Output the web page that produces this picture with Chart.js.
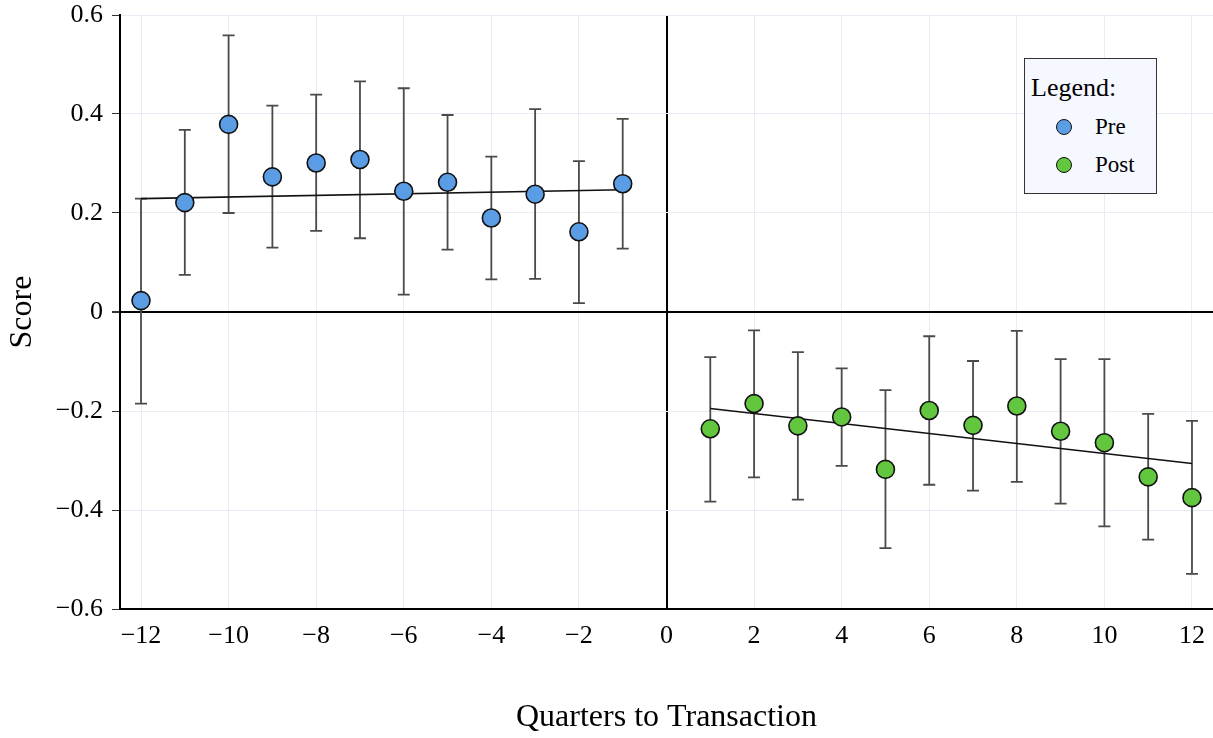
<!DOCTYPE html>
<html>
<head>
<meta charset="utf-8">
<script src="https://cdn.jsdelivr.net/npm/chart.js@4.4.1/dist/chart.umd.min.js"></script>
<style>
  body { margin: 0; background: #fff; }
  #wrap { position: relative; width: 1213px; height: 738px; }
  #legendBox {
    position: absolute; left: 1024px; top: 58px; width: 131px; height: 134px;
    border: 1.5px solid #333; background: #f5f8fe;
    font-family: 'Liberation Serif', 'Times New Roman', serif; color: #000;
  }
  #legendBox .ttl { position: absolute; left: 6px; top: 14px; font-size: 26px; line-height: 30px; }
  #legendBox .item { position: absolute; left: 31px; font-size: 23px; line-height: 26px; }
  #legendBox .dot {
    display: inline-block; width: 14px; height: 14px; border-radius: 50%;
    border: 1.5px solid #111; vertical-align: middle; margin-right: 23px; position: relative; top: -2px;
  }
</style>
</head>
<body>
<div id="wrap">
  <canvas id="scoreChart" width="1213" height="738"></canvas>
  <div id="legendBox"></div>
</div>
<script>
// quarters relative to the transaction
const preQuarters = [-12, -11, -10, -9, -8, -7, -6, -5, -4, -3, -2, -1];
const postQuarters = [1, 2, 3, 4, 5, 6, 7, 8, 9, 10, 11, 12];

// mean scores and error bar bounds
const preScore = [0.023, 0.221, 0.379, 0.273, 0.301, 0.308, 0.244, 0.262, 0.190, 0.238, 0.162, 0.259];
const preLower = [-0.185, 0.075, 0.200, 0.130, 0.164, 0.149, 0.035, 0.126, 0.066, 0.067, 0.018, 0.128];
const preUpper = [0.229, 0.368, 0.559, 0.417, 0.439, 0.466, 0.452, 0.398, 0.314, 0.410, 0.305, 0.390];

const postScore = [-0.236, -0.185, -0.230, -0.212, -0.318, -0.199, -0.229, -0.190, -0.241, -0.264, -0.333, -0.375];
const postLower = [-0.383, -0.334, -0.379, -0.311, -0.477, -0.349, -0.361, -0.343, -0.387, -0.433, -0.460, -0.529];
const postUpper = [-0.091, -0.037, -0.081, -0.114, -0.158, -0.049, -0.099, -0.038, -0.095, -0.095, -0.206, -0.220];

// fitted trend lines (start and end values)
const preTrend = [0.229, 0.247];
const postTrend = [-0.195, -0.306];

const seriesNames = ['Pre', 'Post'];
const seriesColors = ['#5b9de4', '#62c63e'];

const xTickValues = [-12, -10, -8, -6, -4, -2, 0, 2, 4, 6, 8, 10, 12];
const xTickLabels = ['\u221212', '\u221210', '\u22128', '\u22126', '\u22124', '\u22122', '0', '2', '4', '6', '8', '10', '12'];
const yTickValues = [-0.6, -0.4, -0.2, 0, 0.2, 0.4, 0.6];
const yTickLabels = ['\u22120.6', '\u22120.4', '\u22120.2', '0', '0.2', '0.4', '0.6'];

const serif = "'Liberation Serif', 'Times New Roman', serif";

function toPoints(xs, ys) {
  return xs.map((x, i) => ({ x: x, y: ys[i] }));
}

// vertical error bars with caps, drawn under the markers
const errorBars = {
  id: 'errorBars',
  beforeDatasetsDraw(chart) {
    const ctx = chart.ctx;
    const xs = chart.scales.x;
    const ys = chart.scales.y;
    const groups = [
      [preQuarters, preLower, preUpper],
      [postQuarters, postLower, postUpper],
    ];
    ctx.save();
    ctx.strokeStyle = '#4a4a4a';
    ctx.lineWidth = 1.8;
    groups.forEach(([qs, lo, hi]) => {
      qs.forEach((q, i) => {
        const px = xs.getPixelForValue(q);
        const y1 = ys.getPixelForValue(lo[i]);
        const y2 = ys.getPixelForValue(hi[i]);
        ctx.beginPath();
        ctx.moveTo(px, y1);
        ctx.lineTo(px, y2);
        ctx.moveTo(px - 6, y1);
        ctx.lineTo(px + 6, y1);
        ctx.moveTo(px - 6, y2);
        ctx.lineTo(px + 6, y2);
        ctx.stroke();
      });
    });
    ctx.restore();
  }
};

const ctx = document.getElementById('scoreChart').getContext('2d');
new Chart(ctx, {
  type: 'scatter',
  data: {
    datasets: [
      {
        label: seriesNames[0],
        data: toPoints(preQuarters, preScore),
        backgroundColor: seriesColors[0],
        borderColor: '#111',
        borderWidth: 1.6,
        pointRadius: 9,
      },
      {
        label: seriesNames[1],
        data: toPoints(postQuarters, postScore),
        backgroundColor: seriesColors[1],
        borderColor: '#111',
        borderWidth: 1.6,
        pointRadius: 9,
      },
      {
        type: 'line',
        label: 'Pre trend',
        data: toPoints([preQuarters[0], preQuarters[preQuarters.length - 1]], preTrend),
        borderColor: '#111',
        borderWidth: 1.6,
        pointRadius: 0,
      },
      {
        type: 'line',
        label: 'Post trend',
        data: toPoints([postQuarters[0], postQuarters[postQuarters.length - 1]], postTrend),
        borderColor: '#111',
        borderWidth: 1.6,
        pointRadius: 0,
      },
    ]
  },
  options: {
    responsive: false,
    animation: false,
    layout: { autoPadding: false, padding: { top: 15, right: 0, left: 0, bottom: 0 } },
    plugins: {
      legend: { display: false },
      tooltip: { enabled: false },
    },
    scales: {
      x: {
        type: 'linear',
        min: -12.48,
        max: 12.48,
        afterFit: (scale) => {
          scale.height = 129;
          scale.paddingLeft = 0;
          scale.paddingRight = 0;
        },
        afterBuildTicks: (scale) => { scale.ticks = xTickValues.map(v => ({ value: v })); },
        ticks: {
          callback: (v) => xTickLabels[xTickValues.indexOf(v)],
          font: { family: serif, size: 26 },
          color: '#000',
          padding: 2,
          maxRotation: 0,
        },
        grid: {
          color: (c) => (c.tick && c.tick.value === 0 ? '#000' : '#e8ecf5'),
          lineWidth: (c) => (c.tick && c.tick.value === 0 ? 2 : 1),
          tickLength: 10,
          tickColor: 'transparent',
        },
        border: { display: true, color: '#000', width: 2 },
        title: {
          display: true,
          text: 'Quarters to Transaction',
          font: { family: serif, size: 32 },
          color: '#000',
          padding: { top: 0, bottom: 1 },
        },
      },
      y: {
        min: -0.6,
        max: 0.6,
        afterFit: (scale) => {
          scale.width = 120;
          scale.paddingTop = 0;
          scale.paddingBottom = 0;
        },
        afterBuildTicks: (scale) => { scale.ticks = yTickValues.map(v => ({ value: v })); },
        ticks: {
          callback: (v) => yTickLabels[yTickValues.findIndex(t => Math.abs(t - v) < 1e-9)],
          font: { family: serif, size: 26 },
          color: '#000',
          padding: 9,
        },
        grid: {
          color: (c) => (c.tick && Math.abs(c.tick.value) < 1e-9 ? '#000' : '#e8ecf5'),
          lineWidth: (c) => (c.tick && Math.abs(c.tick.value) < 1e-9 ? 2 : 1),
          tickLength: 8,
          tickColor: '#333',
        },
        border: { display: true, color: '#000', width: 2 },
        title: {
          display: true,
          text: 'Score',
          font: { family: serif, size: 32 },
          color: '#000',
          padding: { top: 3, bottom: 0 },
        },
      },
    },
  },
  plugins: [errorBars],
});

// legend box built from the series names and colours
const box = document.getElementById('legendBox');
box.innerHTML = '<div class="ttl">Legend:</div>' + seriesNames.map((name, i) =>
  '<div class="item" style="top:' + (55 + i * 38) + 'px"><span class="dot" style="background:' +
  seriesColors[i] + '"></span>' + name + '</div>').join('');
</script>
</body>
</html>
